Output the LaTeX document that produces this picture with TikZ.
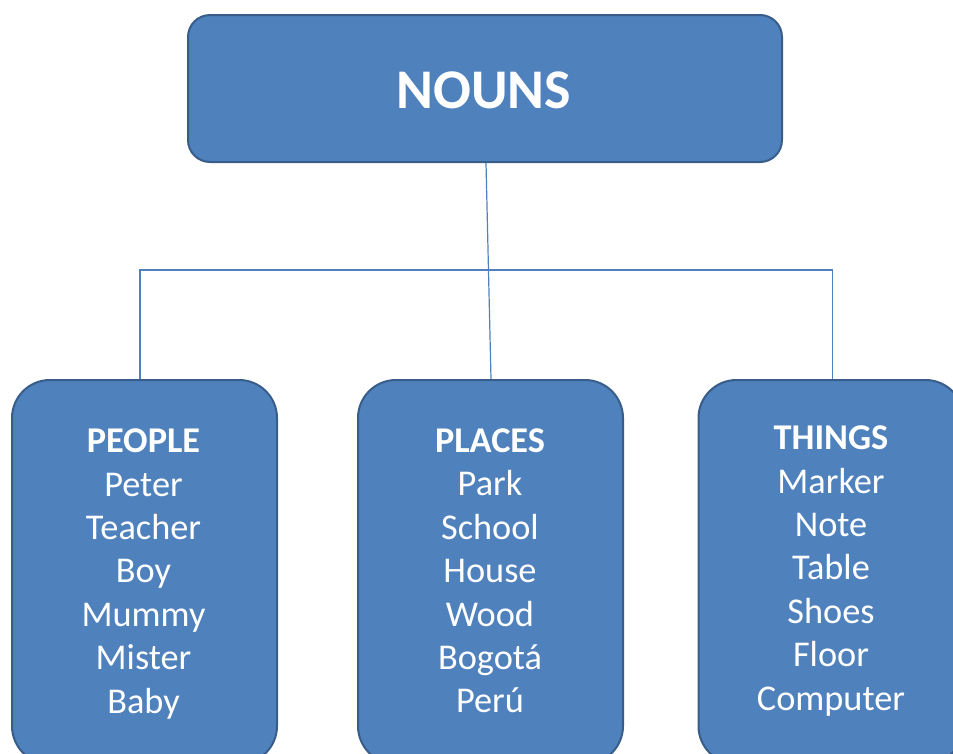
\documentclass[tikz,border=0pt]{standalone}
\usepackage{fontspec}
\setmainfont{Carlito}
\definecolor{boxfill}{HTML}{4F81BD}
\definecolor{boxline}{HTML}{385D8A}
\definecolor{conn}{HTML}{4F81BD}
\begin{document}
\begin{tikzpicture}[x=1pt,y=-1pt,
  topbox/.style={draw=boxline,line width=2pt,fill=boxfill,rounded corners=22pt,minimum width=594pt,minimum height=147pt,inner sep=0pt},
  catbox/.style={draw=boxline,line width=2pt,fill=boxfill,rounded corners=38pt,minimum width=265pt,minimum height=384pt,inner sep=0pt},
  toptext/.style={text=white,font=\fontsize{56}{60}\selectfont\bfseries,inner sep=0pt},
  listtext/.style={text=white,font=\fontsize{36.3}{43.4}\selectfont,align=center,inner sep=0pt},
  link/.style={draw=conn,line width=1.2pt}]
\useasboundingbox (0,0) rectangle (953,753);
\clip (0,0) rectangle (953,753);
% boxes
\node[topbox] (nouns) at (485,88.5) {};
\node[toptext] (nounstext) at (484,90) {NOUNS};
\node[catbox] (people) at (144.5,572) {};
\node[catbox] (places) at (490.5,572) {};
\node[catbox] (things) at (831,572) {};
\node[listtext] (peopletext) at (143.5,574) {\textbf{PEOPLE}\\Peter\\Teacher\\Boy\\Mummy\\Mister\\Baby};
\node[listtext] (placestext) at (490,571) {\textbf{PLACES}\\Park\\School\\House\\Wood\\Bogotá\\Perú};
\node[listtext] (thingstext) at (831,571) {\textbf{THINGS}\\Marker\\Note\\Table\\Shoes\\Floor\\Computer};
% connectors
\coordinate (jl) at (140,270);
\coordinate (jr) at (832.5,270);
\draw[link] ([xshift=1pt]nouns.south) -- ([xshift=0.5pt]places.north);
\draw[link] (people.north -| jl) -- (jl) -- (jr) -- (things.north -| jr);
\end{tikzpicture}
\end{document}
